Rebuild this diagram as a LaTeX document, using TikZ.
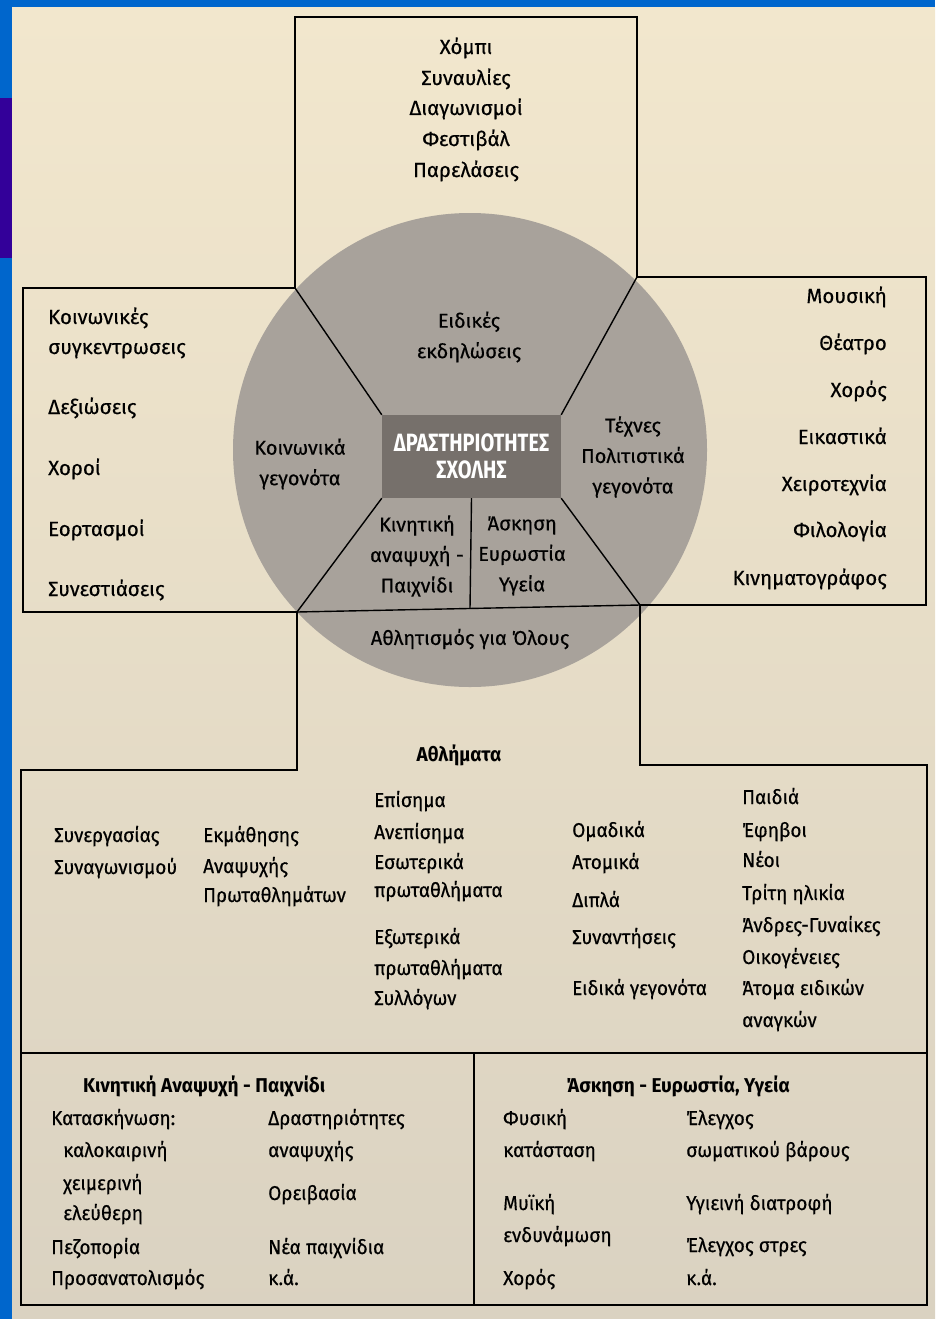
\documentclass[tikz,border=0pt]{standalone}
\usepackage{fontspec}
\setmainfont{Fira Sans}
\newfontfamily\boxfont{Fira Sans}[FakeBold=0.4]
\newfontfamily\narrowfont{Fira Sans}[FakeStretch=0.95,FakeBold=0.4]
\newfontfamily\headfont{Fira Sans}[FakeStretch=0.95]
\newfontfamily\corefont{Fira Sans}[FakeStretch=0.8]
\definecolor{slideblue}{HTML}{0066CC}
\definecolor{slidepurple}{HTML}{330099}
\definecolor{papertop}{HTML}{F2E7CD}
\definecolor{paperbot}{HTML}{DAD2C1}
\definecolor{disc}{HTML}{A8A29B}
\definecolor{coregrey}{HTML}{76706B}
\tikzset{
  item/.style={inner sep=0pt, text height=18pt, text depth=4pt, font=\fontsize{20.5}{30}\boxfont},
  gitem/.style={item, font=\fontsize{20}{30}\narrowfont},
  lbl/.style={inner sep=0pt, align=center, font=\fontsize{20}{30.5}\boxfont},
  head/.style={item, font=\fontsize{20}{30}\headfont\bfseries},
  frame/.style={draw=black, line width=1.4pt, line join=miter}
}
\begin{document}
\begin{tikzpicture}[x=1pt,y=-1pt]
    % slide and paper
    \fill[slideblue] (0,0) rectangle (935,1319);
    \fill[slidepurple] (0,98) rectangle (12,258);
    \shade[top color=papertop, bottom color=paperbot] (12,8) rectangle (935,1319);
    \useasboundingbox (0,0) rectangle (935,1319);
    % the disc and its core
    \fill[disc] (470,450) circle[radius=237];
    \node[fill=coregrey, minimum width=179pt, minimum height=83pt, inner sep=0pt,
      align=center, text=white, font=\fontsize{25}{27}\corefont\bfseries] (core) at (471.5,456.5)
      {ΔΡΑΣΤΗΡΙΟΤΗΤΕΣ\\ΣΧΟΛΗΣ};
    % junctions on the rim
    \coordinate (TL) at (295,288);
    \coordinate (TR) at (637,277);
    \coordinate (BL) at (297,612);
    \coordinate (BR) at (640,605);
    \coordinate (mid) at (470,608.5);
    \coordinate (splitL) at (21,1053);
    \coordinate (splitR) at (927,1053);
    \coordinate (splitM) at (474,1053);
    \coordinate (splitB) at (474,1305);
    % boxes
    \draw[frame] (TL) -- ++(0,-271) -| (TR);
    \draw[frame] (TL) -| (23,612) -- (BL);
    \draw[frame] (TR) -| (926,605) -- (BR);
    \draw[frame] (BL) -- ++(0,158) -| (21,1305) -| (927,765) -| (BR);
    \draw[frame] (splitL) -- (splitR);
    \draw[frame] (splitM) -- (splitB);
    % sectors
    \draw[frame] (BL) -- (BR);
    \draw[frame] (core.north west) -- (TL);
    \draw[frame] (core.north east) -- (TR);
    \draw[frame] (core.south west) -- (BL);
    \draw[frame] (core.south east) -- (BR);
    \draw[frame] (core.south) -- (mid);
    % sector labels
    \node[lbl] (special) at (469,337) {Ειδικές\\εκδηλώσεις};
    \node[lbl] (social) at (300,464) {Κοινωνικά\\γεγονότα};
    \node[lbl] (arts) at (633,457) {Τέχνες\\Πολιτιστικά\\γεγονότα};
    \node[lbl] (play) at (417,556) {Κινητική\\αναψυχή -\\Παιχνίδι};
    \node[lbl] (fit) at (522,556) {Άσκηση\\Ευρωστία\\Υγεία};
    \node[lbl] (sport) at (470,639) {Αθλητισμός για Όλους};
    % top box
    \foreach \y/\t [count=\i] in {47/Χόμπι,78/Συναυλίες,108/Διαγωνισμοί,139/Φεστιβάλ,170/Παρελάσεις}
        \node[item] (T-\i) at (466,\y) {\t};
    % left box
    \foreach \y/\t [count=\i] in {317/Κοινωνικές,347/συγκεντρωσεις,407/Δεξιώσεις,468/Χοροί,529/Εορτασμοί,589/Συνεστιάσεις}
        \node[item, anchor=west] (L-\i) at (48,\y) {\t};
    % right box
    \foreach \y/\t [count=\i] in {296/Μουσική,343/Θέατρο,390/Χορός,437/Εικαστικά,484/Χειροτεχνία,530/Φιλολογία,578/Κινηματογράφος}
        \node[item, anchor=east] (R-\i) at (887,\y) {\t};
    % games box
    \node[head] (games) at (459,754) {Αθλήματα};
    \foreach \x/\y/\t [count=\i] in {54/835/Συνεργασίας,54/867/Συναγωνισμού,
        203/835/Εκμάθησης,203/866/Αναψυχής,203/895/Πρωταθλημάτων,
        374/800/Επίσημα,374/832/Ανεπίσημα,374/862/Εσωτερικά,374/890/πρωταθλήματα,
        374/937/Εξωτερικά,374/968/πρωταθλήματα,374/998/Συλλόγων,
        572/830/Ομαδικά,572/862/Ατομικά,572/900/Διπλά,572/937/Συναντήσεις,572/988/Ειδικά γεγονότα,
        742/797/Παιδιά,742/830/Έφηβοι,742/860/Νέοι,742/893/Τρίτη ηλικία,742/925/Άνδρες-Γυναίκες,
        742/957/Οικογένειες,742/988/Άτομα ειδικών,742/1020/αναγκών}
        \node[gitem, anchor=west] (G-\i) at (\x,\y) {\t};
    % recreation box
    \node[head, anchor=west] (playhead) at (83,1085) {Κινητική Αναψυχή - Παιχνίδι};
    \foreach \x/\y/\t [count=\i] in {51/1118/Κατασκήνωση:,63/1150/καλοκαιρινή,63/1183/χειμερινή,
        63/1213/ελεύθερη,51/1247/Πεζοπορία,51/1278/Προσανατολισμός,
        268/1118/Δραστηριότητες,268/1150/αναψυχής,268/1193/Ορειβασία,268/1247/Νέα παιχνίδια,268/1278/κ.ά.}
        \node[gitem, anchor=west] (P-\i) at (\x,\y) {\t};
    % fitness box
    \node[head, anchor=west] (fithead) at (566,1085) {Άσκηση - Ευρωστία, Υγεία};
    \foreach \x/\y/\t [count=\i] in {503/1118/Φυσική,503/1150/κατάσταση,503/1203/Μυϊκή,
        503/1235/ενδυνάμωση,503/1278/Χορός,
        686/1118/Έλεγχος,686/1150/σωματικού βάρους,686/1203/Υγιεινή διατροφή,686/1245/Έλεγχος στρες,686/1278/κ.ά.}
        \node[gitem, anchor=west] (F-\i) at (\x,\y) {\t};
\end{tikzpicture}
\end{document}
